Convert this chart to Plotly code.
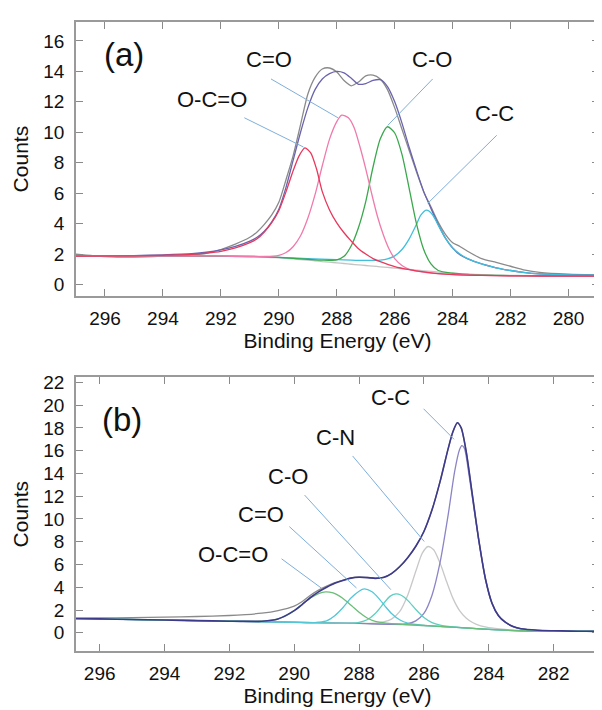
import plotly.graph_objects as go

# ---------------- panel (a) ----------------
x_a = [297, 296, 295, 294, 293, 292.5, 292, 291.5, 291, 290.75, 290.5, 290.25, 290, 289.75,
       289.5, 289.25, 289, 288.75, 288.5, 288.25, 288, 287.75, 287.5, 287.25, 287, 286.75,
       286.5, 286.25, 286, 285.75, 285.5, 285.25, 285, 284.75, 284.5, 284.25, 284, 283.75,
       283.5, 283, 282.5, 282, 281.5, 281, 280, 278.9]
raw_a = [2.0, 1.84, 1.8, 1.86, 1.95, 2.05, 2.3, 2.65, 3.1, 3.45, 3.95, 4.55, 5.4, 6.9,
         8.5, 10.5, 12.5, 13.6, 14.15, 14.22, 13.95, 13.4, 13.05, 13.3, 13.7, 13.75,
         13.5, 12.8, 11.6, 10.2, 8.8, 7.4, 6.1, 5.1, 4.1, 3.3, 2.75, 2.5,
         2.2, 1.7, 1.45, 1.2, 0.95, 0.8, 0.68, 0.63]
fit_a = [1.86, 1.87, 1.9, 1.95, 2.03, 2.12, 2.27, 2.5, 2.85, 3.1, 3.5, 4.1, 4.95, 6.4,
         8.2, 10.0, 11.6, 12.8, 13.5, 13.85, 14.0, 13.9, 13.55, 13.15, 13.2, 13.4,
         13.45, 13.0, 12.0, 10.6, 9.0, 7.5, 6.1, 5.0, 3.95, 3.05, 2.4, 1.95,
         1.7, 1.35, 1.1, 0.92, 0.78, 0.7, 0.63, 0.61]
bg_a = [1.86, 1.86, 1.86, 1.86, 1.86, 1.86, 1.85, 1.84, 1.82, 1.81, 1.79, 1.77, 1.75, 1.72,
        1.68, 1.64, 1.6, 1.56, 1.51, 1.47, 1.42, 1.38, 1.33, 1.29, 1.25, 1.21,
        1.16, 1.12, 1.08, 1.03, 0.99, 0.95, 0.9, 0.86, 0.82, 0.78, 0.75, 0.72,
        0.69, 0.65, 0.62, 0.6, 0.59, 0.59, 0.58, 0.58]

x_oco_a = [297, 295, 294, 293, 292.5, 292, 291.5, 291, 290.75, 290.5, 290.25, 290, 289.75, 289.5,
           289.3, 289.1, 288.9, 288.7, 288.5, 288.25, 288, 287.75, 287.5, 287.25, 287, 286.75,
           286.5, 286, 285.5, 285, 284.5, 284, 283, 282, 281, 278.9]
y_oco_a = [1.86, 1.88, 1.92, 1.98, 2.06, 2.18, 2.4, 2.75, 3.0, 3.45, 4.05, 4.85, 6.1, 7.5,
           8.45, 8.97, 8.65, 7.6, 6.1, 4.9, 4.05, 3.4, 2.85, 2.35, 2.0, 1.7,
           1.5, 1.18, 0.98, 0.83, 0.72, 0.65, 0.6, 0.57, 0.56, 0.55]

x_co2_a = [297, 292, 291, 290.5, 290.2, 290, 289.75, 289.5, 289.25, 289, 288.75, 288.5, 288.25,
           288, 287.83, 287.6, 287.4, 287.2, 287, 286.8, 286.6, 286.4, 286.2, 286, 285.75,
           285.5, 285, 284.5, 284, 283, 282, 281, 278.9]
y_co2_a = [1.86, 1.86, 1.84, 1.84, 1.86, 1.92, 2.1, 2.5, 3.2, 4.35, 5.9, 7.8, 9.55,
           10.7, 11.12, 10.95, 10.3, 9.05, 7.6, 6.0, 4.5, 3.3, 2.35, 1.7, 1.25,
           1.0, 0.82, 0.72, 0.66, 0.6, 0.57, 0.56, 0.55]

x_co_a = [297, 292, 291, 290.5, 290, 289.5, 289, 288.5, 288, 287.75, 287.5, 287.25, 287,
          286.75, 286.5, 286.25, 286, 285.75, 285.5, 285.25, 285, 284.75, 284.5, 284,
          283.5, 283, 282, 281, 278.9]
y_co_a = [1.86, 1.86, 1.85, 1.83, 1.78, 1.72, 1.66, 1.6, 1.62, 1.85, 2.55, 3.75, 5.45,
          7.7, 9.55, 10.36, 9.95, 8.55, 6.3, 4.0, 2.3, 1.35, 0.92, 0.74,
          0.66, 0.62, 0.58, 0.57, 0.56]

x_cc_a = [297, 292, 291, 290, 289, 288, 287.5, 287, 286.5, 286.25, 286, 285.75, 285.5, 285.25,
          285.1, 284.9, 284.7, 284.5, 284.25, 284, 283.75, 283.5, 283, 282.5, 282, 281.5,
          281, 280, 278.9]
y_cc_a = [1.86, 1.86, 1.84, 1.78, 1.7, 1.64, 1.6, 1.58, 1.6, 1.68, 1.88, 2.3, 3.0, 3.95,
          4.55, 4.88, 4.6, 3.9, 3.05, 2.4, 2.0, 1.72, 1.35, 1.1, 0.92, 0.78,
          0.7, 0.63, 0.61]

# ---------------- panel (b) ----------------
x_b = [296.75, 296, 295, 294, 293, 292, 291.5, 291, 290.5, 290, 289.75, 289.5, 289.25, 289,
       288.75, 288.5, 288.25, 288, 287.75, 287.5, 287.25, 287, 286.75, 286.5, 286.25, 286,
       285.75, 285.5, 285.25, 285.1, 284.97, 284.85, 284.7, 284.5, 284.3, 284.1, 283.9,
       283.7, 283.5, 283.25, 283, 282.5, 282, 281.5, 281, 280.55]
raw_b = [1.28, 1.3, 1.33, 1.37, 1.43, 1.52, 1.6, 1.72, 1.95, 2.35, 2.75, 3.3, 3.75, 4.1,
         4.4, 4.62, 4.82, 4.9, 4.86, 4.8, 4.86, 5.2, 5.8, 6.6, 7.6, 8.9,
         10.8, 13.3, 16.2, 17.7, 18.45, 18.0, 16.0, 12.0, 8.0, 4.7, 2.6,
         1.5, 0.95, 0.55, 0.35, 0.22, 0.18, 0.15, 0.13, 0.12]
fit_b = [1.25, 1.22, 1.17, 1.12, 1.07, 1.02, 1.0, 1.02, 1.22, 1.95, 2.5, 3.1, 3.6, 4.0,
         4.35, 4.6, 4.8, 4.88, 4.85, 4.78, 4.85, 5.2, 5.8, 6.6, 7.6, 8.9,
         10.8, 13.3, 16.2, 17.7, 18.45, 18.0, 16.0, 12.0, 8.0, 4.7, 2.6,
         1.5, 0.95, 0.55, 0.35, 0.22, 0.18, 0.15, 0.13, 0.12]

x_bgb = [296.75, 296, 295, 294, 293, 292, 291, 290, 289, 288, 287, 286.5, 286, 285.5, 285,
         284.5, 284, 283.5, 283, 282, 281, 280.55]
bg_b = [1.25, 1.22, 1.17, 1.12, 1.07, 1.02, 0.97, 0.92, 0.87, 0.82, 0.75, 0.7, 0.64, 0.56, 0.47,
        0.38, 0.3, 0.22, 0.18, 0.15, 0.13, 0.12]

x_oco_b = [296.75, 295, 293, 292, 291.5, 291, 290.75, 290.5, 290.25, 290, 289.75, 289.5, 289.25,
           289.03, 288.8, 288.6, 288.4, 288.2, 288, 287.75, 287.5, 287, 286, 285, 284, 283,
           282, 280.55]
y_oco_b = [1.25, 1.17, 1.07, 1.02, 1.0, 1.02, 1.08, 1.22, 1.5, 1.95, 2.5, 3.05, 3.45,
           3.6, 3.5, 3.22, 2.8, 2.3, 1.8, 1.3, 1.0, 0.8, 0.64, 0.47, 0.3, 0.18,
           0.15, 0.12]

x_co2_b = [296.75, 292, 290, 289.5, 289.25, 289, 288.75, 288.5, 288.25, 288, 287.84, 287.6,
           287.4, 287.2, 287, 286.75, 286.5, 286, 285, 284, 283, 282, 280.55]
y_co2_b = [1.25, 1.02, 0.92, 0.88, 0.93, 1.05, 1.5, 2.2, 3.05, 3.65, 3.85, 3.6,
           3.05, 2.35, 1.7, 1.15, 0.85, 0.66, 0.47, 0.3, 0.18, 0.15, 0.12]

x_co_b = [296.75, 292, 289, 288.5, 288.25, 288, 287.75, 287.5, 287.25, 287.05, 286.87, 286.7,
          286.5, 286.25, 286, 285.75, 285.5, 285, 284, 283, 282, 280.55]
y_co_b = [1.25, 1.02, 0.87, 0.84, 0.85, 0.92, 1.15, 1.7, 2.55, 3.2, 3.42, 3.3,
          2.85, 2.05, 1.35, 0.9, 0.68, 0.5, 0.3, 0.18, 0.15, 0.12]

x_cn_b = [296.75, 292, 289, 288, 287.5, 287.25, 287, 286.75, 286.5, 286.25, 286.05, 285.87,
          285.7, 285.5, 285.3, 285.1, 284.9, 284.7, 284.5, 284.25, 284, 283.5, 283, 282, 280.55]
y_cn_b = [1.25, 1.02, 0.87, 0.83, 0.85, 0.95, 1.2, 1.85, 3.3, 5.4, 7.0, 7.58,
          7.3, 6.1, 4.5, 3.0, 1.95, 1.3, 0.9, 0.6, 0.45, 0.3, 0.2, 0.15, 0.12]

x_cc_b = [296.75, 292, 289, 288, 287, 286.5, 286.25, 286, 285.75, 285.5, 285.25, 285.05, 284.9,
          284.83, 284.75, 284.6, 284.45, 284.3, 284.1, 283.9, 283.7, 283.5, 283.25, 283,
          282.5, 282, 281, 280.55]
y_cc_b = [1.25, 1.02, 0.87, 0.82, 0.75, 0.8, 1.05, 1.7, 3.3, 6.2, 10.4, 14.2, 16.1,
          16.45, 16.2, 13.7, 10.8, 8.0, 4.7, 2.6, 1.5, 0.95, 0.55, 0.35,
          0.22, 0.18, 0.13, 0.12]

# axis ticks
ticks_xa = [296, 294, 292, 290, 288, 286, 284, 282, 280]
ticks_ya = [0, 2, 4, 6, 8, 10, 12, 14, 16]
ticks_xb = [296, 294, 292, 290, 288, 286, 284, 282]
ticks_yb = [0, 2, 4, 6, 8, 10, 12, 14, 16, 18, 20, 22]

# labels: (text, label x, label y, line start x, line start y, line end x, line end y)
labels_a = [("O-C=O", 292.32, 12.12, 291.19, 10.95, 289.15, 9.03),
            ("C=O", 290.34, 14.8, 290.27, 13.5, 287.96, 10.95),
            ("C-O", 284.73, 14.8, 284.69, 13.5, 286.24, 10.45),
            ("C-C", 282.55, 11.2, 282.48, 9.8, 284.86, 5.33)]
labels_b = [("C-C", 287.02, 20.7, 286.01, 19.68, 285.07, 17.0),
            ("C-N", 288.72, 17.2, 288.2, 15.54, 285.99, 8.02),
            ("C-O", 290.18, 13.76, 289.68, 12.1, 287.02, 3.79),
            ("C=O", 291.01, 10.35, 290.15, 9.33, 288.08, 3.94),
            ("O-C=O", 291.89, 6.85, 290.39, 6.5, 289.14, 3.88)]

FONT = "Liberation Sans, Arial, sans-serif"
LEADER = "#7eaedb"

fig = go.Figure()

def add(x, y, color, xa, ya, width=1.3):
    fig.add_trace(go.Scatter(x=x, y=y, mode="lines", xaxis=xa, yaxis=ya,
                             line=dict(color=color, width=width, shape="spline", smoothing=0.7),
                             showlegend=False, hoverinfo="skip"))

# panel a
add(x_a, raw_a, "#8a8a8a", "x", "y")
add(x_a, bg_a, "#c4c4c4", "x", "y")
add(x_a, fit_a, "#6a63ae", "x", "y")
add(x_cc_a, y_cc_a, "#3fbfdc", "x", "y")
add(x_co_a, y_co_a, "#3aa84c", "x", "y")
add(x_co2_a, y_co2_a, "#f07aab", "x", "y")
add(x_oco_a, y_oco_a, "#e8385c", "x", "y")

# panel b
add(x_b, raw_b, "#8a8a8a", "x2", "y2")
add(x_bgb, bg_b, "#c4c4c4", "x2", "y2")
add(x_cn_b, y_cn_b, "#c8c8c8", "x2", "y2")
add(x_cc_b, y_cc_b, "#8a85c6", "x2", "y2")
add(x_co_b, y_co_b, "#5ccfc0", "x2", "y2")
add(x_co2_b, y_co2_b, "#52c6d8", "x2", "y2")
add(x_oco_b, y_oco_b, "#6bbd78", "x2", "y2")
add(x_b, fit_b, "#3d3a8c", "x2", "y2", width=1.6)

annotations = []
shapes = []
for (t, lx, ly, sx, sy, ex, ey) in labels_a:
    annotations.append(dict(x=lx, y=ly, xref="x", yref="y", text=t, showarrow=False,
                            font=dict(family=FONT, size=22, color="#111")))
    shapes.append(dict(type="line", xref="x", yref="y", x0=sx, y0=sy, x1=ex, y1=ey,
                       line=dict(color=LEADER, width=1)))
for (t, lx, ly, sx, sy, ex, ey) in labels_b:
    annotations.append(dict(x=lx, y=ly, xref="x2", yref="y2", text=t, showarrow=False,
                            font=dict(family=FONT, size=22, color="#111")))
    shapes.append(dict(type="line", xref="x2", yref="y2", x0=sx, y0=sy, x1=ex, y1=ey,
                       line=dict(color=LEADER, width=1)))
annotations.append(dict(x=295.35, y=15.1, xref="x", yref="y", text="(a)", showarrow=False,
                        font=dict(family=FONT, size=33, color="#111")))
annotations.append(dict(x=295.3, y=18.75, xref="x2", yref="y2", text="(b)", showarrow=False,
                        font=dict(family=FONT, size=33, color="#111")))

axis_common = dict(showline=True, mirror="ticks", linecolor="#9a9a9a", linewidth=1.5,
                   ticks="inside", ticklen=7, tickwidth=1.2, tickcolor="#8a8a8a",
                   showgrid=False, zeroline=False,
                   tickfont=dict(family=FONT, size=19, color="#111"))

fig.update_layout(
    width=602, height=710,
    margin=dict(l=68, r=9, t=11, b=67),
    paper_bgcolor="white", plot_bgcolor="white",
    xaxis=dict(axis_common, domain=[0, 1], anchor="y", range=[297, 278.95],
               tickvals=ticks_xa, ticklabelstandoff=4,
               title=dict(text="Binding Energy (eV)", standoff=4,
                          font=dict(family=FONT, size=21, color="#111"))),
    yaxis=dict(axis_common, domain=[0.564, 1], anchor="x", range=[-0.77, 17.24],
               tickvals=ticks_ya, ticklabelstandoff=6,
               title=dict(text="Counts", standoff=9,
                          font=dict(family=FONT, size=21, color="#111"))),
    xaxis2=dict(axis_common, domain=[0, 1], anchor="y2", range=[296.73, 280.6],
                tickvals=ticks_xb, ticklabelstandoff=4,
                title=dict(text="Binding Energy (eV)", standoff=4,
                           font=dict(family=FONT, size=21, color="#111"))),
    yaxis2=dict(axis_common, domain=[0, 0.435], anchor="x2", range=[-1.6, 22.44],
                tickvals=ticks_yb, ticklabelstandoff=6,
                title=dict(text="Counts", standoff=9,
                           font=dict(family=FONT, size=21, color="#111"))),
    annotations=annotations,
    shapes=shapes,
)

fig.write_html("out.html")
